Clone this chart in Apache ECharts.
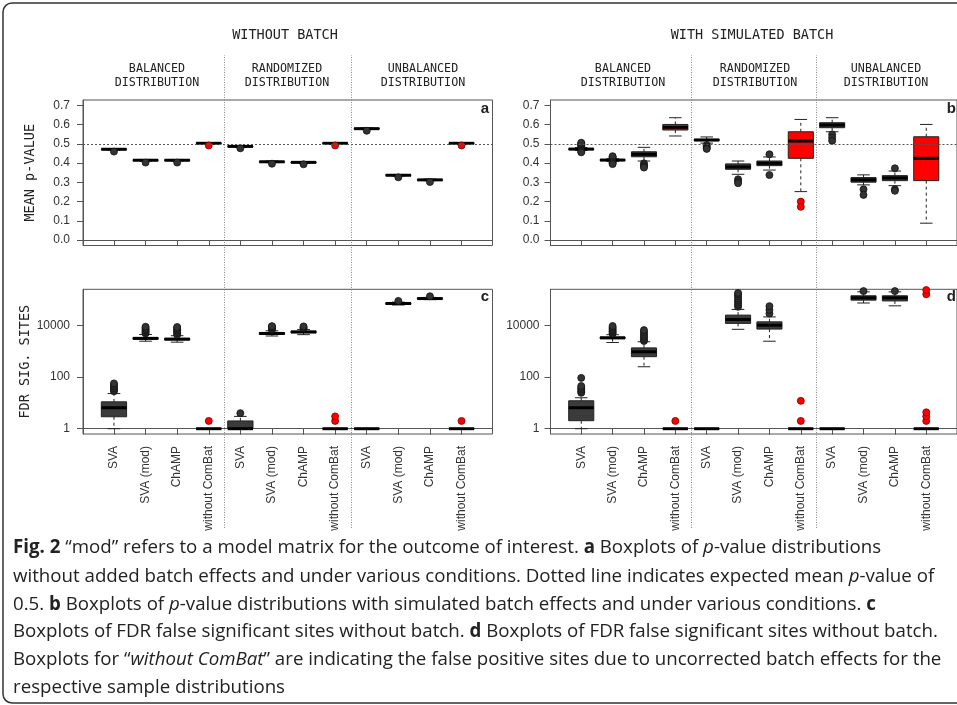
<!DOCTYPE html>
<html>
<head>
<meta charset="utf-8">
<script src="https://cdn.jsdelivr.net/npm/echarts@6/dist/echarts.min.js"></script>
<style>
  html, body { margin: 0; padding: 0; background: #fff; }
  #chart { width: 957px; height: 705px; }
</style>
</head>
<body>
<div id="chart"></div>
<script>
// methods, repeated in each of the three sample-distribution groups
const categories = ['SVA', 'SVA (mod)', 'ChAMP', 'without ComBat'];
const groupNames = ['BALANCED\nDISTRIBUTION', 'RANDOMIZED\nDISTRIBUTION', 'UNBALANCED\nDISTRIBUTION'];
const pTicks = [0.0, 0.1, 0.2, 0.3, 0.4, 0.5, 0.6, 0.7];
const fdrTicks = [1, 100, 10000];

// boxes: [min, q1, median, q3, max], one per position 1..12
const pNoBatchBoxes = [
  [0.468, 0.470, 0.472, 0.474, 0.476], [0.411, 0.413, 0.415, 0.417, 0.419],
  [0.411, 0.413, 0.415, 0.417, 0.419], [0.499, 0.502, 0.503, 0.504, 0.507],
  [0.483, 0.485, 0.487, 0.489, 0.491], [0.403, 0.405, 0.407, 0.409, 0.411],
  [0.400, 0.402, 0.404, 0.406, 0.408], [0.499, 0.502, 0.503, 0.504, 0.507],
  [0.575, 0.577, 0.579, 0.581, 0.583], [0.333, 0.335, 0.337, 0.339, 0.341],
  [0.309, 0.311, 0.313, 0.315, 0.317], [0.499, 0.502, 0.503, 0.504, 0.507]
];
// outliers: [position, value]
const pNoBatchOutliers = [
  [1, 0.460], [2, 0.403], [3, 0.403], [4, 0.492],
  [5, 0.477], [6, 0.397], [7, 0.394], [8, 0.492],
  [9, 0.568], [10, 0.326], [11, 0.302], [12, 0.492]
];

const pBatchBoxes = [
  [0.466, 0.470, 0.473, 0.476, 0.481], [0.409, 0.413, 0.416, 0.419, 0.423],
  [0.411, 0.433, 0.446, 0.459, 0.482], [0.541, 0.572, 0.586, 0.601, 0.636],
  [0.504, 0.517, 0.520, 0.524, 0.536], [0.342, 0.368, 0.380, 0.396, 0.411],
  [0.364, 0.387, 0.399, 0.411, 0.432], [0.252, 0.425, 0.515, 0.563, 0.627],
  [0.563, 0.584, 0.598, 0.610, 0.636], [0.287, 0.301, 0.313, 0.325, 0.339],
  [0.283, 0.309, 0.323, 0.335, 0.359], [0.088, 0.309, 0.425, 0.537, 0.601]
];
const pBatchOutliers = [
  [1, 0.486], [1, 0.492], [1, 0.497], [1, 0.502], [1, 0.506], [1, 0.461], [1, 0.456],
  [2, 0.427], [2, 0.432], [2, 0.436], [2, 0.405], [2, 0.400], [2, 0.395],
  [3, 0.399], [3, 0.390], [3, 0.383], [3, 0.377],
  [5, 0.494], [5, 0.486], [5, 0.479], [5, 0.474],
  [6, 0.316], [6, 0.305], [6, 0.296],
  [7, 0.446], [7, 0.338],
  [8, 0.200], [8, 0.173],
  [9, 0.549], [9, 0.532], [9, 0.516],
  [10, 0.264], [10, 0.235],
  [11, 0.373], [11, 0.264], [11, 0.256]
];

// FDR significant sites (counts, drawn on a log10 axis)
const fdrNoBatchBoxes = [
  [1, 2.9, 6.5, 11, 23], [2450, 2950, 3160, 3390, 4470],
  [2250, 2750, 2950, 3150, 4000], [1, 1, 1, 1, 1],
  [1, 1, 1, 2, 3], [3900, 4500, 4900, 5300, 6200],
  [4400, 5200, 5600, 6000, 7000], [1, 1, 1, 1, 1],
  [1, 1, 1, 1, 1], [62000, 66000, 71000, 75000, 80000],
  [100000, 105000, 110000, 116000, 122000], [1, 1, 1, 1, 1]
];
const fdrNoBatchOutliers = [
  [1, 28], [1, 32], [1, 37], [1, 43], [1, 50], [1, 57],
  [2, 4900], [2, 5400], [2, 5900], [2, 6500], [2, 7200], [2, 8000], [2, 8900],
  [3, 4400], [3, 5000], [3, 5600], [3, 6300], [3, 7000], [3, 7900], [3, 8700],
  [4, 2],
  [5, 4],
  [6, 6800], [6, 7500], [6, 8200], [6, 9000], [6, 9400],
  [7, 7700], [7, 8400], [7, 9200],
  [8, 2], [8, 3],
  [10, 89000],
  [11, 135000],
  [12, 2]
];

const fdrBatchBoxes = [
  [1, 2.04, 6.5, 12.1, 15.8], [2190, 3100, 3300, 3550, 4370],
  [251, 617, 955, 1350, 2340], [1, 1, 1, 1, 1],
  [1, 1, 1, 1, 1], [7080, 12000, 17000, 25100, 41700],
  [2450, 7240, 10200, 13800, 21400], [1, 1, 1, 1, 1],
  [1, 1, 1, 1, 1], [74000, 95500, 117000, 141000, 200000],
  [57500, 89000, 117000, 141000, 200000], [1, 1, 1, 1, 1]
];
const fdrBatchOutliers = [
  [1, 24.5], [1, 28], [1, 33], [1, 38], [1, 45], [1, 93],
  [2, 4800], [2, 5300], [2, 5900], [2, 6600], [2, 7400], [2, 8300], [2, 9500],
  [3, 2500], [3, 2900], [3, 3400], [3, 4000], [3, 4700], [3, 5600], [3, 6600],
  [4, 2],
  [6, 52500], [6, 63000], [6, 76000], [6, 91000], [6, 110000], [6, 135000], [6, 160000], [6, 182000],
  [7, 28800], [7, 40000], [7, 56000],
  [8, 2], [8, 12],
  [10, 214000],
  [11, 214000],
  [12, 2], [12, 3], [12, 4.3], [12, 162000], [12, 234000]
];

const chart = echarts.init(document.getElementById('chart'), null, { renderer: 'canvas' });

const SANS = 'Liberation Sans, Arial, sans-serif';
const MONO = 'DejaVu Sans Mono, monospace';
const isRed = pos => pos % 4 === 0;

// R style box: dashed whiskers, short caps, filled box, thick median
function boxRenderer(fill) {
  return function (params, api) {
    const x = api.value(0);
    const band = api.size([1, 0])[0];
    const hw = band * 0.4;
    const cw = hw / 2;
    const p = i => api.coord([x, api.value(i)]);
    const cx = p(1)[0];
    const yMin = p(1)[1], yQ1 = p(2)[1], yMed = p(3)[1], yQ3 = p(4)[1], yMax = p(5)[1];
    const dashed = { stroke: '#222', lineWidth: 1, lineDash: [3, 3] };
    const solid = { stroke: '#222', lineWidth: 1 };
    const line = (x1, y1, x2, y2, style) => ({ type: 'line', shape: { x1, y1, x2, y2 }, style });
    return {
      type: 'group',
      children: [
        line(cx, yQ3, cx, yMax, dashed),
        line(cx, yQ1, cx, yMin, dashed),
        line(cx - cw, yMax, cx + cw, yMax, solid),
        line(cx - cw, yMin, cx + cw, yMin, solid),
        { type: 'rect', shape: { x: cx - hw, y: yQ3, width: 2 * hw, height: yQ1 - yQ3 },
          style: { fill, stroke: '#222', lineWidth: 1 } },
        line(cx - hw, yMed, cx + hw, yMed, { stroke: '#000', lineWidth: 3 })
      ]
    };
  };
}

function panelSeries(idx, boxes, outliers, tf, refLine) {
  const boxData = red => boxes
    .map((b, i) => [i + 1].concat(b.map(tf)))
    .filter(d => isRed(d[0]) === red);
  const outData = red => outliers
    .filter(o => isRed(o[0]) === red)
    .map(o => [o[0], tf(o[1])]);
  const list = [
    { type: 'custom', xAxisIndex: idx, yAxisIndex: idx, renderItem: boxRenderer('#3b3b3b'),
      data: boxData(false), encode: { x: 0, y: [1, 2, 3, 4, 5] }, silent: true, z: 2 },
    { type: 'custom', xAxisIndex: idx, yAxisIndex: idx, renderItem: boxRenderer('#ff0000'),
      data: boxData(true), encode: { x: 0, y: [1, 2, 3, 4, 5] }, silent: true, z: 2 },
    { type: 'scatter', xAxisIndex: idx, yAxisIndex: idx, data: outData(false), symbolSize: 7,
      itemStyle: { color: '#333', borderColor: '#111', borderWidth: 0.8, opacity: 1 }, silent: true, z: 3 },
    { type: 'scatter', xAxisIndex: idx, yAxisIndex: idx, data: outData(true), symbolSize: 7,
      itemStyle: { color: '#ff0000', borderColor: '#7a0000', borderWidth: 0.8, opacity: 1 }, silent: true, z: 3 }
  ];
  if (refLine != null) {
    list[2].markLine = {
      silent: true, symbol: 'none', label: { show: false },
      lineStyle: { type: [2, 2], color: '#555', width: 1 },
      data: [{ yAxis: refLine }]
    };
  }
  return list;
}

const positions = [1, 2, 3, 4, 5, 6, 7, 8, 9, 10, 11, 12];
const colLeft = [83, 550.5];
const colWidth = [409.5, 410];
const rowTop = [100, 289.3];
const rowHeight = [145.5, 144.7];

const grids = [];
const xAxes = [];
const yAxes = [];
for (let r = 0; r < 2; r++) {
  for (let c = 0; c < 2; c++) {
    grids.push({ left: colLeft[c], top: rowTop[r], width: colWidth[c], height: rowHeight[r],
      show: true, borderColor: '#555', borderWidth: 1, backgroundColor: 'transparent' });
    const gi = grids.length - 1;
    xAxes.push({
      type: 'value', gridIndex: gi, min: 0.02, max: 12.98,
      axisLine: { show: true, lineStyle: { color: '#555' } },
      axisTick: { show: true, length: 6, customValues: positions, lineStyle: { color: '#555' } },
      axisLabel: {
        show: r === 1, customValues: positions, rotate: 90, margin: 12,
        fontFamily: SANS, fontSize: 12, color: '#333',
        formatter: v => categories[(Math.round(v) - 1) % 4]
      },
      splitLine: { show: false }
    });
    const yBase = {
      type: 'value', gridIndex: gi,
      axisLine: { show: true, lineStyle: { color: '#555' } },
      splitLine: { show: false },
      nameLocation: 'middle', nameGap: 46,
      nameTextStyle: { fontFamily: MONO, fontSize: 13.5, color: '#222' }
    };
    if (r === 0) {
      yAxes.push(Object.assign(yBase, {
        min: -0.028, max: 0.728,
        name: c === 0 ? 'MEAN p-VALUE' : '',
        axisTick: { show: true, length: 6, customValues: pTicks, lineStyle: { color: '#555' } },
        axisLabel: { customValues: pTicks, margin: c === 0 ? 13 : 11, fontFamily: SANS, fontSize: 12,
          color: '#333', formatter: v => v.toFixed(1) }
      }));
    } else {
      const lt = fdrTicks.map(Math.log10);
      yAxes.push(Object.assign(yBase, {
        min: -0.205, max: 5.40,
        name: c === 0 ? 'FDR SIG. SITES' : '',
        axisTick: { show: true, length: 6, customValues: lt, lineStyle: { color: '#555' } },
        axisLabel: { customValues: lt, margin: c === 0 ? 13 : 11, fontFamily: SANS, fontSize: 12,
          color: '#333', formatter: v => String(Math.round(Math.pow(10, v))) }
      }));
    }
  }
}

// full-height overlay grids for the dotted group separators
const separators = [1, 2].map(g => ({ xAxis: g * 4 + 0.5 }));
for (let c = 0; c < 2; c++) {
  grids.push({ left: colLeft[c], top: 55, width: colWidth[c], height: 473, show: false });
  const gi = grids.length - 1;
  xAxes.push({ type: 'value', gridIndex: gi, min: 0.02, max: 12.98, show: false });
  yAxes.push({ type: 'value', gridIndex: gi, min: 0, max: 1, show: false });
}

const ident = v => v;
const series = []
  .concat(panelSeries(0, pNoBatchBoxes, pNoBatchOutliers, ident, 0.5))
  .concat(panelSeries(1, pBatchBoxes, pBatchOutliers, ident, 0.5))
  .concat(panelSeries(2, fdrNoBatchBoxes, fdrNoBatchOutliers, Math.log10, null))
  .concat(panelSeries(3, fdrBatchBoxes, fdrBatchOutliers, Math.log10, null));
[4, 5].forEach(gi => {
  series.push({
    type: 'scatter', xAxisIndex: gi, yAxisIndex: gi, data: [[1, 0.5]], symbolSize: 0, silent: true,
    markLine: { silent: true, symbol: 'none', label: { show: false },
      lineStyle: { type: [1, 1.5], color: '#888', width: 1 }, data: separators }
  });
});

// texts around the panels
const groupX = [[157, 287, 423], [623, 755, 886]];
const graphic = [
  { type: 'rect', shape: { x: 3, y: 3, width: 1000, height: 700, r: 9 },
    style: { fill: 'none', stroke: '#333', lineWidth: 1.5 }, silent: true },
  { type: 'text', x: 285, y: 35, style: { text: 'WITHOUT BATCH', font: '13.5px ' + MONO, fill: '#222',
    align: 'center', verticalAlign: 'middle' } },
  { type: 'text', x: 752, y: 35, style: { text: 'WITH SIMULATED BATCH', font: '13.5px ' + MONO, fill: '#222',
    align: 'center', verticalAlign: 'middle' } }
];
groupX.forEach(xs => xs.forEach((x, i) => {
  graphic.push({ type: 'text', x, y: 75.5, style: { text: groupNames[i], font: '11.7px ' + MONO,
    fill: '#222', align: 'center', verticalAlign: 'middle', lineHeight: 14 } });
}));
[['a', 489, 109], ['b', 956, 109], ['c', 489, 297], ['d', 956, 297]].forEach(([t, x, y]) => {
  graphic.push({ type: 'text', x, y, style: { text: t, font: 'bold 15px ' + SANS, fill: '#222',
    align: 'right', verticalAlign: 'middle' } });
});

const CAP = 'Open Sans, sans-serif';
const capSize = 18.7;
const rich = {
  b: { fontFamily: CAP, fontSize: capSize, fontWeight: 'bold', fill: '#222' },
  i: { fontFamily: CAP, fontSize: capSize, fontStyle: 'italic', fill: '#222' },
  n: { fontFamily: CAP, fontSize: capSize, fill: '#222' }
};
const captionLines = [
  '{b|Fig. 2}{n| “mod” refers to a model matrix for the outcome of interest. }{b|a}{n| Boxplots of }{i|p}{n|-value distributions}',
  '{n|without added batch effects and under various conditions. Dotted line indicates expected mean }{i|p}{n|-value of}',
  '{n|0.5. }{b|b}{n| Boxplots of }{i|p}{n|-value distributions with simulated batch effects and under various conditions. }{b|c}',
  '{n|Boxplots of FDR false significant sites without batch. }{b|d}{n| Boxplots of FDR false significant sites without batch.}',
  '{n|Boxplots for “}{i|without ComBat}{n|” are indicating the false positive sites due to uncorrected batch effects for the}',
  '{n|respective sample distributions}'
];
const captionY = [548, 577, 605, 632, 660, 688];
captionLines.forEach((t, i) => {
  graphic.push({ type: 'text', x: 13, y: captionY[i], style: { text: t, rich,
    font: capSize + 'px ' + CAP, fill: '#222', align: 'left', verticalAlign: 'middle' } });
});

chart.setOption({
  animation: false,
  backgroundColor: '#fff',
  grid: grids,
  xAxis: xAxes,
  yAxis: yAxes,
  series,
  graphic
});

window.addEventListener('resize', () => chart.resize());
</script>
</body>
</html>
